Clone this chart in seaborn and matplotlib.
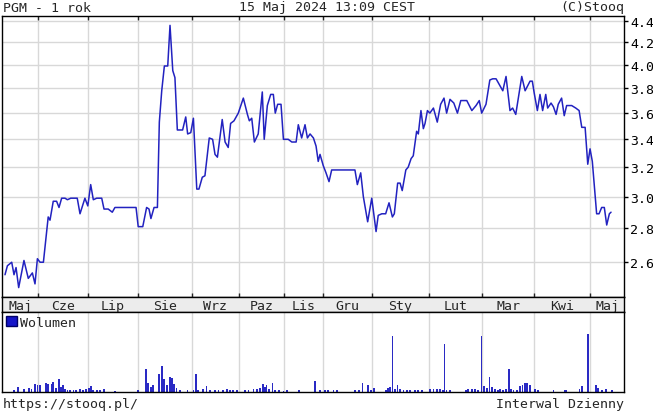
import matplotlib
matplotlib.use('Agg')
import matplotlib.pyplot as plt
import seaborn as sns
import pandas as pd
from matplotlib.patches import Patch
from matplotlib.ticker import FixedLocator, FormatStrFormatter, NullLocator

# session index (trading days from mid-May 2023) and close price of the line vertices
session = [0, 1, 2.8, 3.75, 4.6, 5.7, 7.9, 9.7, 11.4, 12.5,
           13.5, 14.6, 16, 18, 18.75, 20.1, 21.5, 22.5, 23.6, 25,
           26, 27.4, 30.1, 31.25, 33.3, 34.5, 35.7, 36.8, 38.2, 40.3,
           41.25, 43, 44.7, 45.8, 54.6, 55.5, 57.4, 59, 60, 60.8,
           62.1, 63.5, 64.3, 65.3, 66.4, 67.8, 68.75, 69.9, 70.8, 71.8,
           74, 75.3, 76.1, 77.4, 78.5, 79.9, 80.8, 82.2, 83.3, 85.1,
           86.5, 87.5, 88.5, 90.5, 91.7, 93, 94, 95.4, 97.2, 99.3,
           101, 101.8, 102.8, 103.9, 105.5, 107.2, 108, 109.3, 110.7, 111.8,
           112.6, 113.6, 115, 116, 118, 119.5, 121.3, 122.2, 123.6, 125,
           126, 127.1, 128.5, 129.6, 130.5, 131.25, 132.6, 133.75, 135, 136.1,
           145.8, 146.8, 148.2, 149.3, 151.1, 152.8, 154.6, 155.5, 157, 158.6,
           160, 161.4, 162.2, 163.6, 164.6, 165.5, 167, 168, 169.2, 170.1,
           171.5, 172.2, 173.3, 174.3, 175, 176, 177, 178.5, 180.1, 181.5,
           182.9, 184, 185.4, 187, 188.5, 189.9, 192.4, 194.5, 196.25, 197.6,
           198.6, 200.4, 202, 203.2, 204.6, 207.4, 208.75, 210.4, 211.5, 212.8,
           215.3, 216.7, 218.75, 219.7, 220.5, 221.8, 222.9, 224, 225.3, 226.1,
           227.5, 228.5, 229.6, 230.5, 231.9, 233, 234, 236.1, 237.8, 239.2,
           240.3, 241.7, 242.8, 243.75, 244.7, 246.5, 247.5, 248.6, 249.7, 250.7,
           251.8, 252.5]
close = [2.53, 2.58, 2.60, 2.53, 2.57, 2.46, 2.61, 2.51, 2.54, 2.48,
         2.62, 2.60, 2.60, 2.87, 2.85, 2.97, 2.97, 2.93, 2.99, 2.99,
         2.98, 2.99, 2.99, 2.89, 2.99, 2.94, 3.08, 2.98, 2.99, 2.99,
         2.92, 2.92, 2.90, 2.93, 2.93, 2.81, 2.81, 2.93, 2.92, 2.86,
         2.93, 2.93, 3.53, 3.78, 3.99, 3.99, 4.36, 3.95, 3.89, 3.47,
         3.47, 3.57, 3.44, 3.45, 3.56, 3.05, 3.05, 3.13, 3.14, 3.41,
         3.40, 3.29, 3.27, 3.55, 3.38, 3.34, 3.52, 3.54, 3.60, 3.72,
         3.59, 3.54, 3.56, 3.38, 3.44, 3.77, 3.40, 3.66, 3.75, 3.75,
         3.60, 3.67, 3.67, 3.40, 3.40, 3.38, 3.38, 3.51, 3.41, 3.51,
         3.41, 3.44, 3.41, 3.35, 3.24, 3.29, 3.21, 3.16, 3.10, 3.18,
         3.18, 3.08, 3.16, 3.00, 2.84, 2.99, 2.78, 2.88, 2.89, 2.89,
         2.96, 2.87, 2.89, 3.09, 3.09, 3.04, 3.18, 3.20, 3.26, 3.28,
         3.46, 3.44, 3.62, 3.48, 3.52, 3.62, 3.60, 3.64, 3.53, 3.67,
         3.72, 3.60, 3.71, 3.68, 3.60, 3.70, 3.70, 3.62, 3.66, 3.70,
         3.60, 3.67, 3.87, 3.88, 3.88, 3.78, 3.90, 3.62, 3.64, 3.59,
         3.90, 3.78, 3.86, 3.86, 3.76, 3.62, 3.75, 3.62, 3.75, 3.64,
         3.68, 3.65, 3.59, 3.67, 3.72, 3.58, 3.66, 3.66, 3.64, 3.62,
         3.49, 3.49, 3.22, 3.33, 3.24, 2.89, 2.89, 2.93, 2.93, 2.82,
         2.89, 2.90]

# volume bars (relative units, no scale shown on the chart)
vol_session = [3.75, 5.5, 7.9, 10.1, 11.1, 12.5, 13.5, 14.6, 17.1, 18,
               19.5, 20.1, 21.25, 22.5, 23.2, 24.3, 25, 26.1, 27.1, 28.5,
               29.6, 31.25, 32.4, 33.75, 35.1, 35.8, 36.8, 38.2, 39.6, 41.25,
               45.8, 55.5, 58.75, 59.7, 60.7, 61.8, 64.3, 65.3, 66.25, 67.4,
               68.75, 69.7, 70.5, 71.5, 72.9, 76, 78.5, 79.6, 80.5, 82.4,
               84, 85.4, 87.5, 88.9, 90.7, 92.4, 93.75, 95.1, 96.8, 100,
               101.4, 103.5, 104.9, 106.25, 107.4, 108.3, 109, 110.1, 111.5, 112.6,
               114.3, 116, 117.6, 122.6, 129.2, 131.25, 133.3, 134.7, 136.8, 138.2,
               145.8, 147.6, 149, 151.1, 152.4, 153.75, 158.75, 159.7, 160.4, 161.5,
               162.5, 163.5, 164.6, 166, 167.4, 168.75, 170.8, 172.2, 173.6, 177.1,
               178.5, 179.9, 181.25, 182.4, 183.1, 184, 185.4, 192.1, 193, 194.5,
               195.8, 197.2, 198.5, 199.7, 200.7, 201.8, 202.8, 204.2, 205.3, 206.25,
               207.4, 208.75, 209.9, 210.7, 211.8, 213.2, 214.6, 215.6, 216.7, 217.4,
               218.75, 220.8, 222.2, 228.5, 233.3, 234, 239.3, 240.3, 242.8, 246.25,
               247.2, 248.6, 250.4, 252.8]
volume = [1.7, 5, 3.3, 4.3, 3.3, 8.3, 6.7, 6.7, 9.3, 8.3,
          8.3, 10, 4, 13.3, 5, 7.3, 3.3, 2, 2, 1.7,
          1.7, 3.3, 2, 2.7, 4.3, 6, 2.3, 2, 2, 3.3,
          1.3, 2, 22.7, 9.3, 4.7, 7.3, 17.7, 26, 12.7, 7.3,
          14.7, 14, 8.3, 4, 1.7, 2, 2, 18, 2, 2.7,
          6, 2, 2, 2, 2, 2.7, 2.3, 2, 2.3, 1.7,
          2, 2.7, 2.7, 4, 8.3, 5, 7.3, 3.3, 9.3, 2,
          2, 1.3, 2, 2, 10.7, 2, 2, 1.7, 1.7, 1.7,
          1.7, 1.7, 9.3, 6.7, 2, 4.3, 2, 4, 4.7, 55.7,
          3.3, 7.3, 2.7, 2, 1.7, 1.7, 2, 1.7, 2, 3.3,
          2.7, 3.3, 3.3, 2.3, 47.7, 2.3, 1.7, 2.3, 2.7, 3.3,
          2.7, 2.3, 56, 6, 4, 14.7, 4.7, 3.3, 2.3, 3.3,
          2.3, 3.3, 22.7, 3, 2.3, 2, 6, 7.3, 8.7, 9.3,
          6.7, 3.3, 2, 2, 2, 1.7, 2.7, 6, 58.3, 6.7,
          4, 2, 3.3, 1.7]

month_start = [13.75, 34.6, 55.4, 77.9, 97.5, 116.25, 132.5, 152.9, 176.7, 198.75, 220.4, 243.75]
month_labels = ['Maj', 'Cze', 'Lip', 'Sie', 'Wrz', 'Paz', 'Lis', 'Gru', 'Sty', 'Lut', 'Mar', 'Kwi', 'Maj']
price_ticks = [2.6, 2.8, 3.0, 3.2, 3.4, 3.6, 3.8, 4.0, 4.2, 4.4]

x_min, x_max = -1.25, 257.9
line_c = '#2222c0'
vol_c = '#2a2ac4'
grid_c = '#d8d8d8'

sns.set_style('white')
plt.rcParams['font.family'] = ['DejaVu Sans Mono']
plt.rcParams['font.size'] = 9.5

df = pd.DataFrame({'sesja': session, 'kurs': close})

fig = plt.figure(figsize=(6.53, 4.14), dpi=100)
L, R = 2 / 653, 624 / 653
ax = fig.add_axes([L, 1 - 298 / 414, R - L, (298 - 17) / 414])
band = fig.add_axes([L, 1 - 313 / 414, R - L, 15 / 414])
axv = fig.add_axes([L, 1 - 393 / 414, R - L, 80 / 414])

# price line
sns.lineplot(data=df, x='sesja', y='kurs', ax=ax, color=line_c, lw=1.1,
             estimator=None, sort=False)
ax.set_yscale('log')
ax.set_xlim(x_min, x_max)
ax.set_ylim(2.41, 4.45)
ax.yaxis.set_major_locator(FixedLocator(price_ticks))
ax.yaxis.set_major_formatter(FormatStrFormatter('%.1f'))
ax.yaxis.set_minor_locator(NullLocator())
ax.set_xticks(month_start)
ax.set_xticklabels([])
ax.grid(True, color=grid_c, lw=1)
ax.yaxis.tick_right()
ax.tick_params(axis='y', which='major', direction='out', length=3, width=1, pad=1.5, colors='black')
ax.tick_params(axis='x', bottom=False, top=True, direction='in', length=3, width=1)
ax.set_xlabel('')
ax.set_ylabel('')

# month band
band.set_facecolor('#ececec')
band.set_xlim(x_min, x_max)
band.set_ylim(0, 1)
band.set_yticks([])
band.set_xticks(month_start)
band.set_xticklabels([])
band.tick_params(axis='x', bottom=True, top=True, direction='out', length=3, width=1)
edges = [x_min] + month_start + [x_max]
for lab, a, b in zip(month_labels, edges[:-1], edges[1:]):
    band.text((a + b) / 2, 0.45, lab, ha='center', va='center', fontsize=9.5)

# volume
axv.bar(vol_session, volume, width=0.7, color=vol_c, linewidth=0)
axv.set_xlim(x_min, x_max)
axv.set_ylim(0, 80)
axv.set_yticks([])
axv.set_xticks(month_start)
axv.set_xticklabels([])
axv.tick_params(axis='x', length=0)
axv.grid(True, axis='x', color=grid_c, lw=1)
axv.legend(handles=[Patch(facecolor='#1515c8', edgecolor='#000066')], labels=['Wolumen'],
           loc='upper left', frameon=False, handlelength=0.8, handleheight=0.8,
           handletextpad=0.3, borderaxespad=0.2, borderpad=0.1, fontsize=9.5)

for a in (ax, band, axv):
    for s in a.spines.values():
        s.set_color('black')
        s.set_linewidth(1)

fig.text(3 / 653, 1 - 8 / 414, 'PGM - 1 rok', ha='left', va='center')
fig.text(327 / 653, 1 - 8 / 414, '15 Maj 2024 13:09 CEST', ha='center', va='center')
fig.text(R, 1 - 8 / 414, '(C)Stooq', ha='right', va='center')
fig.text(3 / 653, 1 - 405 / 414, 'https://stooq.pl/', ha='left', va='center')
fig.text(R, 1 - 405 / 414, 'Interwal Dzienny', ha='right', va='center')

fig.savefig('out.png', dpi=100)
